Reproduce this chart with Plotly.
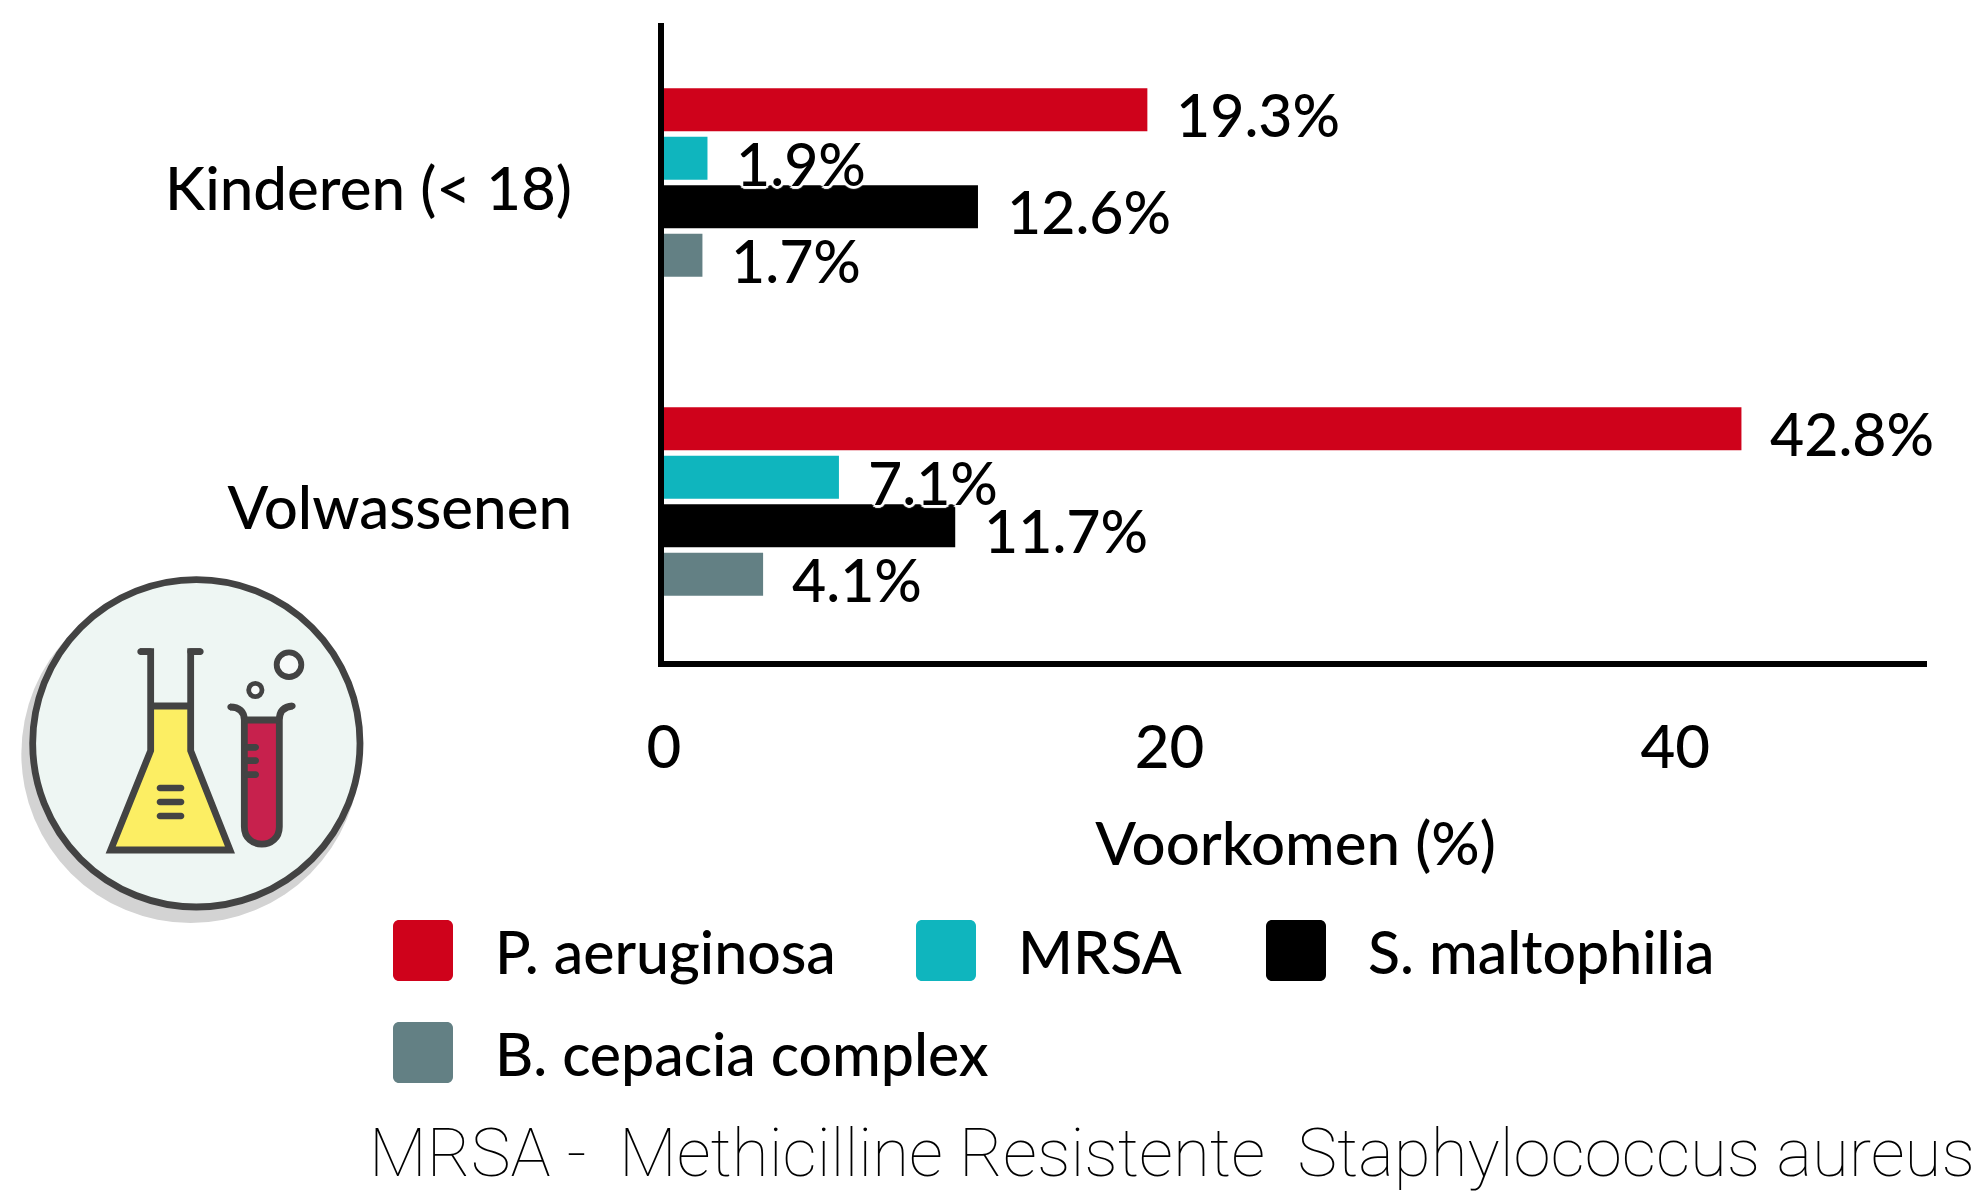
import plotly.graph_objects as go

W, H = 1982, 1194
categories = ["Kinderen (< 18)", "Volwassenen"]
series_names = ["P. aeruginosa", "MRSA", "S. maltophilia", "B. cepacia complex"]
p_aeruginosa = [19.3, 42.8]
mrsa = [1.9, 7.1]
s_maltophilia = [12.6, 11.7]
b_cepacia = [1.7, 4.1]
series_values = [p_aeruginosa, mrsa, s_maltophilia, b_cepacia]
colors = ["#CF021B", "#0FB5BE", "#000000", "#638084"]
x_tick_labels = ["0", "20", "40"]
x_title = "Voorkomen (%)"
footnote = "MRSA -  Methicilline Resistente  Staphylococcus aureus"

FONT = "Lato"
FS = 60
WEIGHT = 500
BARGAP = 0.392
L, R, T, B = 664, 1927, 23, 661
X0 = 0.18          # bars grow from just left of the axis line
XMAX = 50.14
TICK_NUDGE = 0.18
INK = "#000000"

def px(x): return (x - L) / (R - L)
def py(y): return (B - y) / (B - T)

halo = ", ".join(f"white {a}px {b}px 1px" for a, b in
                 [(3,0),(-3,0),(0,3),(0,-3),(2,2),(-2,2),(2,-2),(-2,-2)])

fig = go.Figure()
for name, vals, c in zip(series_names, series_values, colors):
    fig.add_bar(y=categories, x=vals, name=name, orientation="h",
                marker=dict(color=c, line_width=0), showlegend=False, hoverinfo="x+y")

annotations = []
pitch = (1 - BARGAP) / 4
for k, vals in enumerate(series_values):
    for i, v in enumerate(vals):
        annotations.append(dict(x=v, y=i + (k - 1.5) * pitch, xref="x", yref="y",
                                text=f"{v}%", showarrow=False, xanchor="left", yanchor="middle",
                                xshift=27, yshift=-5,
                                font=dict(family=FONT, size=59, color=INK, shadow=halo, weight=WEIGHT)))

shapes = []

def rrect(x0, y0, x1, y1, r, color):
    k = 0.45 * r
    pts = (f"M {px(x0+r)} {py(y0)} L {px(x1-r)} {py(y0)} "
           f"C {px(x1-k)} {py(y0)} {px(x1)} {py(y0+k)} {px(x1)} {py(y0+r)} "
           f"L {px(x1)} {py(y1-r)} C {px(x1)} {py(y1-k)} {px(x1-k)} {py(y1)} {px(x1-r)} {py(y1)} "
           f"L {px(x0+r)} {py(y1)} C {px(x0+k)} {py(y1)} {px(x0)} {py(y1-k)} {px(x0)} {py(y1-r)} "
           f"L {px(x0)} {py(y0+r)} C {px(x0)} {py(y0+k)} {px(x0+k)} {py(y0)} {px(x0+r)} {py(y0)} Z")
    shapes.append(dict(type="path", xref="paper", yref="paper", path=pts, fillcolor=color, line_width=0))

legend_pos = [(393, 950, 0), (916, 950, 1), (1266, 950, 2), (393, 1052, 3)]
for (x, y, k) in legend_pos:
    rrect(x, y - 30, x + 60, y + 31, 6, colors[k])
    annotations.append(dict(x=px(x + 100), y=py(y + 1.5), xref="paper", yref="paper", text=series_names[k],
                            showarrow=False, xanchor="left", yanchor="middle",
                            font=dict(family=FONT, size=59, color=INK, weight=WEIGHT)))

annotations.append(dict(x=px(367), y=py(1153), xref="paper", yref="paper", text=footnote, showarrow=False,
                        xanchor="left", yanchor="middle",
                        font=dict(family="Roboto", size=67.3, color=INK, weight=100)))

# icon: coordinates in the crop's 3x space
def ix(x): return x / 3
def iy(y): return 560 + y / 3
DARK, MINT, YEL, CRIM = "#434343", "#EEF6F3", "#FCEE63", "#C7214D"
LW = 6.8

def circle(cx, cy, r, fill, lw=0, lc=DARK):
    shapes.append(dict(type="circle", xref="paper", yref="paper",
                       x0=px(ix(cx-r)), x1=px(ix(cx+r)),
                       y0=py(iy(cy+r)), y1=py(iy(cy-r)), fillcolor=fill,
                       line=dict(width=lw, color=lc)))

def path(cmds, fill=None, lw=LW):
    out = []
    for c in cmds:
        if isinstance(c, str):
            out.append(c)
        else:
            out.append(f"{px(ix(c[0]))} {py(iy(c[1]))}")
    d = dict(type="path", xref="paper", yref="paper", path=" ".join(out),
             line=dict(width=lw, color=DARK) if lw else dict(width=0))
    if fill:
        d["fillcolor"] = fill
    shapes.append(d)

def dash(x0, x1, y):
    rrect(ix(x0), iy(y - 10), ix(x1), iy(y + 10), 3.3, DARK)

circle(572, 581, 508, "#D3D3D3")
circle(589, 550, 491, MINT, LW)
# flask
path(["M",(452,438),"L",(572,438),"L",(572,572),"L",(688,870),"L",(334,870),"L",(452,572),"Z"], YEL, 0)
path(["M",(420,275),"L",(452,275),"L",(452,572),"L",(332,870),"L",(690,870),"L",(572,572),"L",(572,275),"L",(602,275)])
path(["M",(452,438),"L",(572,438)])
for y in (684, 726, 768):
    dash(470, 553, y)
dash(412, 460, 275)
dash(562, 611, 275)
# tube
path(["M",(733,480),"L",(838,480),"L",(838,800),"C",(838,870),(733,870),(733,800),"Z"], CRIM, 0)
path(["M",(690,441),"C",(718,441),(733,455),(733,480),"L",(733,800),"C",(733,870),(838,870),(838,800),
      "L",(838,480),"C",(838,455),(850,440),(878,438)])
path(["M",(733,480),"L",(838,480)])
for y in (562, 602, 644):
    dash(730, 777, y)
dash(682, 700, 441)
dash(868, 887, 438)
circle(867, 314, 37, "#F7FAF9", 5.8)
circle(766, 390, 20, "#F7FAF9", 4.8)

fig.update_layout(
    width=W, height=H, autosize=False,
    margin=dict(l=L, r=W - R, t=T, b=H - B, pad=0),
    paper_bgcolor="white", plot_bgcolor="white",
    barmode="group", bargap=BARGAP, bargroupgap=0.11,
    font=dict(family=FONT, size=FS, color=INK, weight=WEIGHT),
    annotations=annotations, shapes=shapes,
    xaxis=dict(range=[X0, XMAX], tickmode="array",
               tickvals=[float(t) + TICK_NUDGE for t in x_tick_labels], ticktext=x_tick_labels,
               showgrid=False, zeroline=False,
               showline=True, linecolor="black", linewidth=6, ticks="", ticklabelstandoff=29,
               title=dict(text=x_title, standoff=45, font=dict(family=FONT, size=FS, weight=WEIGHT))),
    yaxis=dict(categoryorder="array", categoryarray=categories, autorange="reversed",
               tickmode="array", tickvals=[0.021, 1.021], ticktext=categories,
               showgrid=False, zeroline=False, showline=True, linecolor="black", linewidth=6,
               ticks="", ticklabelstandoff=74),
)
fig.write_html("out.html", post_script="document.body.style.margin='0';",
               config=dict(displayModeBar=False))
